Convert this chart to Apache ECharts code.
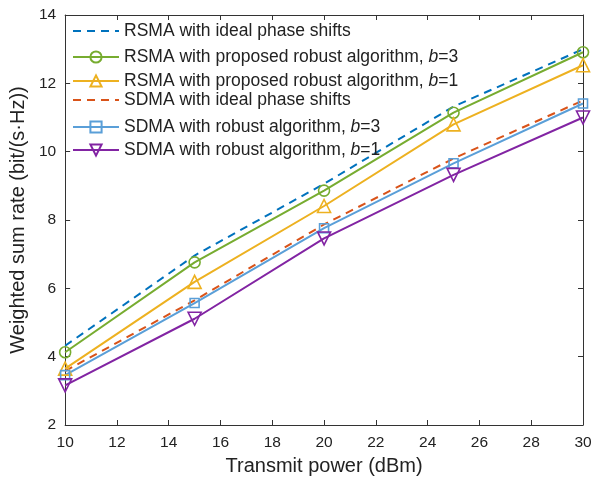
<!DOCTYPE html>
<html>
<head>
<meta charset="utf-8">
<script src="https://cdn.jsdelivr.net/npm/echarts@6/dist/echarts.min.js"></script>
<style>
html,body{margin:0;padding:0;background:#fff;}
#c{width:604px;height:482px;}
</style>
</head>
<body>
<div id="c"></div>
<script>
const powerDbm = [10, 15, 20, 25, 30];
const rsmaIdeal = [4.32, 6.96, 9.06, 11.32, 13.0];
const rsmaRobustB3 = [4.13, 6.76, 8.86, 11.14, 12.91];
const rsmaRobustB1 = [3.65, 6.19, 8.41, 10.80, 12.53];
const sdmaIdeal = [3.58, 5.65, 7.87, 9.80, 11.50];
const sdmaRobustB3 = [3.46, 5.57, 7.76, 9.66, 11.41];
const sdmaRobustB1 = [3.16, 5.11, 7.46, 9.32, 11.00];
const xTicks = [10, 12, 14, 16, 18, 20, 22, 24, 26, 28, 30];
const yTicks = [2, 4, 6, 8, 10, 12, 14];

const names = [
  'RSMA with ideal phase shifts',
  'RSMA with proposed robust algorithm, b=3',
  'RSMA with proposed robust algorithm, b=1',
  'SDMA with ideal phase shifts',
  'SDMA with robust algorithm, b=3',
  'SDMA with robust algorithm, b=1'
];
const legendLabels = {
  'RSMA with ideal phase shifts': '{n|RSMA with ideal phase shifts}',
  'RSMA with proposed robust algorithm, b=3': '{n|RSMA with proposed robust algorithm, }{i|b}{n|=3}',
  'RSMA with proposed robust algorithm, b=1': '{n|RSMA with proposed robust algorithm, }{i|b}{n|=1}',
  'SDMA with ideal phase shifts': '{n|SDMA with ideal phase shifts}',
  'SDMA with robust algorithm, b=3': '{n|SDMA with robust algorithm, }{i|b}{n|=3}',
  'SDMA with robust algorithm, b=1': '{n|SDMA with robust algorithm, }{i|b}{n|=1}'
};
const legendCenters = [31, 57, 81, 100, 127, 150];
const dashedSeries = [true, false, false, true, false, false];

const FONT = 'Liberation Sans, Arial, sans-serif';
const AX = '#333333';
const TXT = '#222222';

function pairs(ys){ return powerDbm.map((x,i)=>[x, ys[i]]); }

function mk(name, ys, color, opts){
  return {
    name: name,
    type: 'line',
    data: pairs(ys),
    xAxisIndex: 0, yAxisIndex: 0,
    color: color,
    lineStyle: {color: color, width: 2, type: opts.dash ? [8, 6] : 'solid'},
    symbol: opts.symbol || 'none',
    symbolSize: opts.size || 0,
    symbolRotate: opts.rotate || 0,
    showSymbol: !!opts.symbol,
    itemStyle: {color: 'rgba(255,255,255,0)', borderColor: color, borderWidth: 1.6},
    emphasis: {disabled: true},
    animation: false
  };
}

const series = [
  mk(names[0], rsmaIdeal, '#0072BD', {dash: true}),
  mk(names[1], rsmaRobustB3, '#77AC30', {symbol: 'circle', size: 11}),
  mk(names[2], rsmaRobustB1, '#EDB120', {symbol: 'triangle', size: 13}),
  mk(names[3], sdmaIdeal, '#D95319', {dash: true}),
  mk(names[4], sdmaRobustB3, '#5A9FD8', {symbol: 'rect', size: 9}),
  mk(names[5], sdmaRobustB1, '#8224A3', {symbol: 'triangle', size: 13, rotate: 180})
];

const legends = names.map((n, i) => {
  const lg = {
    data: [n],
    left: 72,
    top: legendCenters[i] - 9,
    itemWidth: 46,
    itemHeight: 14,
    padding: 0,
    selectedMode: false,
    formatter: (name) => legendLabels[name],
    textStyle: {
      rich: {
        n: {fontFamily: FONT, fontSize: 17.5, color: TXT, lineHeight: 18},
        i: {fontFamily: FONT, fontSize: 17.5, color: TXT, fontStyle: 'italic', lineHeight: 18}
      }
    }
  };
  if (dashedSeries[i]) {
    lg.itemStyle = {color: 'rgba(0,0,0,0)', borderColor: 'rgba(0,0,0,0)', borderWidth: 0, opacity: 0};
  }
  return lg;
});

const grid = {left: 62, right: 21, top: 15, bottom: 57};

const option = {
  backgroundColor: '#fff',
  animation: false,
  grid: grid,
  legend: legends,
  xAxis: [
    {
      type: 'value', min: xTicks[0], max: xTicks[xTicks.length-1], interval: 2,
      position: 'bottom',
      name: 'Transmit power (dBm)', nameLocation: 'middle', nameGap: 31,
      nameTextStyle: {fontFamily: FONT, fontSize: 20, color: TXT},
      axisLine: {show: true, onZero: false, lineStyle: {color: AX, width: 1}},
      axisTick: {show: true, inside: true, length: 5, lineStyle: {color: AX}},
      axisLabel: {fontFamily: FONT, fontSize: 15.5, color: TXT, margin: 10},
      splitLine: {show: false}
    },
    {
      type: 'value', min: xTicks[0], max: xTicks[xTicks.length-1], interval: 2,
      position: 'top',
      axisLine: {show: true, onZero: false, lineStyle: {color: AX, width: 1}},
      axisTick: {show: true, inside: true, length: 5, lineStyle: {color: AX}},
      axisLabel: {show: false},
      splitLine: {show: false}
    }
  ],
  yAxis: [
    {
      type: 'value', min: yTicks[0], max: yTicks[yTicks.length-1], interval: 2,
      position: 'left',
      name: 'Weighted sum rate (bit/(s\u00B7Hz))', nameLocation: 'middle', nameGap: 27,
      nameRotate: 90,
      nameTextStyle: {fontFamily: FONT, fontSize: 20, color: TXT},
      axisLine: {show: true, onZero: false, lineStyle: {color: AX, width: 1}},
      axisTick: {show: true, inside: true, length: 5, lineStyle: {color: AX}},
      axisLabel: {fontFamily: FONT, fontSize: 15.5, color: TXT, margin: 9},
      splitLine: {show: false}
    },
    {
      type: 'value', min: yTicks[0], max: yTicks[yTicks.length-1], interval: 2,
      position: 'right',
      axisLine: {show: true, onZero: false, lineStyle: {color: AX, width: 1}},
      axisTick: {show: true, inside: true, length: 5, lineStyle: {color: AX}},
      axisLabel: {show: false},
      splitLine: {show: false}
    }
  ],
  series: series
};

const chart = echarts.init(document.getElementById('c'), null, {renderer: 'canvas'});
chart.setOption(option);
</script>
</body>
</html>
